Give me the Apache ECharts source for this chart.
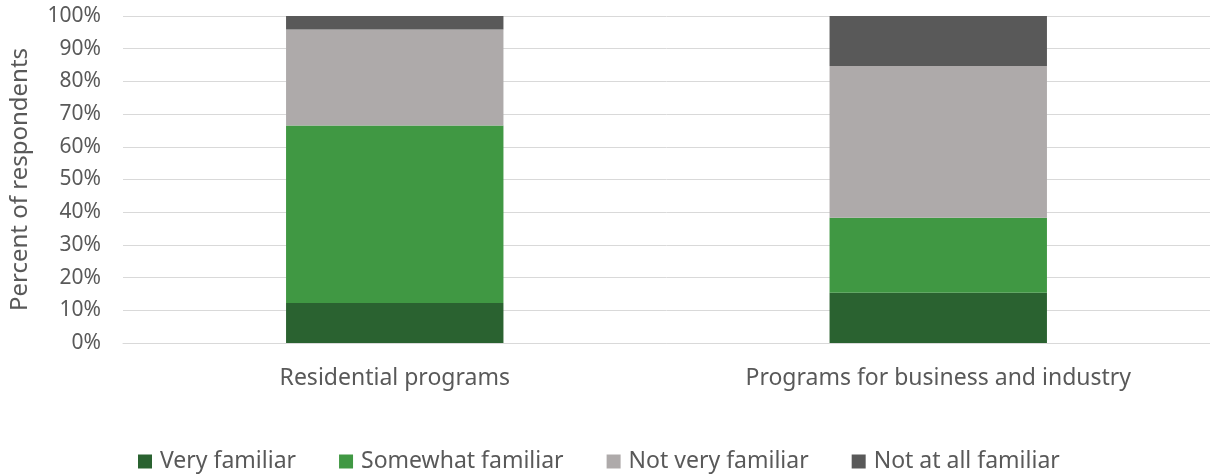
<!DOCTYPE html>
<html>
<head>
<meta charset="utf-8">
<style>
  html, body { margin: 0; padding: 0; background: #ffffff; }
  #chart { width: 1210px; height: 476px; }
</style>
<script src="https://cdn.jsdelivr.net/npm/echarts@6/dist/echarts.min.js"></script>
</head>
<body>
<div id="chart"></div>
<script>
const categories = ['Residential programs', 'Programs for business and industry'];
const seriesNames = ['Very familiar', 'Somewhat familiar', 'Not very familiar', 'Not at all familiar'];
const veryFamiliar = [12.2, 15.4];
const somewhatFamiliar = [54.3, 22.9];
const notVeryFamiliar = [29.4, 46.4];
const notAtAllFamiliar = [4.1, 15.3];
const colors = ['#2a6230', '#409843', '#aeaaaa', '#595959'];

const FONT = '"Noto Sans", "Open Sans", sans-serif';
const TEXT = '#595959';

const chart = echarts.init(document.getElementById('chart'), null, { renderer: 'canvas' });
const values = [veryFamiliar, somewhatFamiliar, notVeryFamiliar, notAtAllFamiliar];

chart.setOption({
  animation: false,
  color: colors,
  grid: { left: 120, right: 0, top: 16, bottom: 133, containLabel: false },
  legend: {
    top: 445,
    left: 133,
    itemWidth: 14,
    itemHeight: 14,
    itemGap: 43,
    icon: 'rect',
    textStyle: { fontFamily: FONT, fontSize: 23, color: TEXT, padding: [0, 0, 0, 3] },
    data: seriesNames
  },
  xAxis: {
    type: 'category',
    data: categories,
    axisLine: { show: true, lineStyle: { color: '#d9d9d9', width: 1 } },
    axisTick: { show: false },
    axisLabel: { fontFamily: FONT, fontSize: 23, color: TEXT, margin: 24 }
  },
  yAxis: {
    type: 'value',
    min: 0,
    max: 100,
    interval: 10,
    name: 'Percent of respondents',
    nameLocation: 'middle',
    nameGap: 91,
    nameTextStyle: { fontFamily: FONT, fontSize: 24, color: TEXT },
    axisLine: { show: false },
    axisTick: { show: false },
    axisLabel: { formatter: '{value}%', fontFamily: FONT, fontSize: 21, color: TEXT, margin: 22 },
    splitLine: { lineStyle: { color: '#d9d9d9', width: 1 } }
  },
  series: seriesNames.map((name, i) => ({
    name: name,
    type: 'bar',
    stack: 'total',
    barWidth: '40%',
    data: values[i]
  }))
});
</script>
</body>
</html>
